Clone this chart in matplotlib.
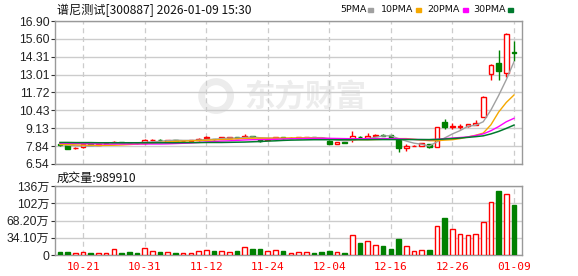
import numpy as np
import matplotlib
matplotlib.use('Agg')
import matplotlib.pyplot as plt
from matplotlib.patches import Rectangle

plt.rcParams['font.family'] = ['Liberation Sans', 'Noto Sans CJK SC']

# --- data (price in yuan, volume in 万手) ---
dates = ['10-16', '10-17', '10-20', '10-21', '10-22', '10-23', '10-24', '10-27', '10-28', '10-29',
         '10-30', '10-31', '11-03', '11-04', '11-05', '11-06', '11-07', '11-10', '11-11', '11-12',
         '11-13', '11-14', '11-17', '11-18', '11-19', '11-20', '11-21', '11-24', '11-25', '11-26',
         '11-27', '11-28', '12-01', '12-02', '12-03', '12-04', '12-05', '12-08', '12-09', '12-10',
         '12-11', '12-12', '12-15', '12-16', '12-17', '12-18', '12-19', '12-22', '12-23', '12-24',
         '12-25', '12-26', '12-29', '12-30', '12-31', '01-05', '01-06', '01-07', '01-08', '01-09']

opens = [8.00, 7.90, 7.70, 7.74, 8.00, 7.95, 7.97, 8.06, 8.13, 8.08,
         8.07, 8.05, 8.27, 8.30, 8.16, 8.28, 8.18, 8.21, 8.28, 8.40,
         8.36, 8.44, 8.44, 8.48, 8.47, 8.57, 8.34, 8.30, 8.40, 8.46,
         8.42, 8.43, 8.46, 8.46, 8.45, 8.23, 8.01, 8.15, 8.35, 8.49,
         8.44, 8.60, 8.64, 8.64, 8.35, 7.68, 7.85, 7.84, 7.99, 7.76,
         9.60, 9.24, 9.25, 9.26, 9.40, 9.97, 13.04, 13.88, 13.11, 14.66]
highs = [8.04, 7.92, 7.76, 8.02, 8.03, 8.00, 8.05, 8.18, 8.15, 8.12,
         8.09, 8.32, 8.34, 8.35, 8.30, 8.30, 8.24, 8.30, 8.42, 8.56,
         8.38, 8.48, 8.48, 8.50, 8.69, 8.60, 8.36, 8.40, 8.50, 8.50,
         8.46, 8.50, 8.52, 8.48, 8.47, 8.25, 8.12, 8.17, 8.93, 8.60,
         8.82, 8.68, 8.68, 8.66, 8.37, 7.96, 7.90, 8.06, 8.00, 9.22,
         9.80, 9.49, 9.45, 9.44, 9.73, 11.47, 13.78, 14.80, 16.00, 15.45]
lows = [7.88, 7.63, 7.64, 7.72, 7.92, 7.93, 7.95, 8.04, 8.04, 8.02,
        8.01, 7.98, 8.22, 8.22, 8.14, 8.18, 8.16, 8.19, 8.22, 8.38,
        8.30, 8.42, 8.42, 8.44, 8.40, 8.48, 8.16, 8.28, 8.38, 8.38,
        8.40, 8.41, 8.42, 8.42, 8.38, 8.00, 7.96, 8.06, 8.15, 8.35,
        8.42, 8.56, 8.55, 8.42, 7.39, 7.50, 7.82, 7.82, 7.68, 7.74,
        9.07, 9.05, 9.08, 9.24, 9.34, 9.95, 12.62, 12.62, 12.86, 14.00]
closes = [7.90, 7.65, 7.73, 8.00, 7.95, 7.98, 8.03, 8.15, 8.06, 8.05,
          8.04, 8.28, 8.29, 8.28, 8.28, 8.21, 8.22, 8.27, 8.36, 8.48,
          8.32, 8.47, 8.47, 8.45, 8.59, 8.50, 8.18, 8.38, 8.46, 8.42,
          8.45, 8.48, 8.47, 8.44, 8.40, 8.01, 8.11, 8.08, 8.59, 8.46,
          8.57, 8.62, 8.58, 8.44, 7.68, 7.84, 7.87, 8.04, 7.79, 9.20,
          9.22, 9.27, 9.28, 9.42, 9.50, 11.40, 13.68, 13.28, 15.94, 14.60]
volumes = [6.5, 6.5, 4.0, 5.3, 4.0, 4.0, 4.0, 11.2, 4.0, 5.9,
           4.0, 13.2, 7.3, 5.9, 5.3, 4.0, 4.0, 4.0, 7.9, 9.2,
           7.9, 7.3, 5.9, 7.9, 15.2, 11.9, 11.9, 7.9, 9.2, 8.2,
           4.5, 6.0, 6.0, 4.5, 6.5, 8.5, 6.0, 4.5, 39.5, 24.0,
           27.7, 19.8, 17.8, 12.0, 31.0, 17.0, 8.0, 10.0, 10.0, 57.0,
           73.0, 51.0, 41.5, 39.5, 41.5, 64.6, 104.0, 126.5, 120.6, 98.991]

ma5 = [7.95, 7.90, 7.86, 7.84, 7.84, 7.86, 7.92, 8.02, 8.05, 8.06,
       8.07, 8.12, 8.14, 8.19, 8.23, 8.27, 8.25, 8.25, 8.27, 8.31,
       8.33, 8.38, 8.42, 8.42, 8.46, 8.50, 8.44, 8.42, 8.41, 8.39,
       8.38, 8.41, 8.45, 8.45, 8.45, 8.36, 8.28, 8.21, 8.26, 8.35,
       8.36, 8.48, 8.57, 8.59, 8.38, 8.20, 8.05, 7.97, 7.84, 8.15,
       8.43, 8.72, 8.96, 9.27, 9.35, 9.60, 10.45, 11.50, 12.65, 13.95]
ma10 = [7.96, 7.95, 7.93, 7.91, 7.90, 7.89, 7.89, 7.90, 7.92, 7.95,
        7.98, 8.02, 8.06, 8.10, 8.14, 8.18, 8.20, 8.22, 8.24, 8.26,
        8.28, 8.31, 8.33, 8.36, 8.39, 8.41, 8.41, 8.41, 8.41, 8.42,
        8.43, 8.43, 8.43, 8.42, 8.40, 8.38, 8.35, 8.32, 8.31, 8.30,
        8.30, 8.31, 8.33, 8.36, 8.38, 8.38, 8.33, 8.27, 8.23, 8.23,
        8.27, 8.30, 8.38, 8.50, 8.62, 8.78, 9.38, 10.30, 11.00, 11.54]
ma20 = [8.05, 8.04, 8.03, 8.02, 8.01, 8.00, 7.99, 7.99, 7.99, 7.99,
        7.99, 7.99, 7.99, 7.99, 8.00, 8.02, 8.04, 8.06, 8.10, 8.14,
        8.17, 8.20, 8.22, 8.25, 8.28, 8.30, 8.31, 8.32, 8.33, 8.35,
        8.37, 8.38, 8.39, 8.40, 8.40, 8.40, 8.39, 8.38, 8.37, 8.37,
        8.37, 8.37, 8.38, 8.38, 8.37, 8.35, 8.32, 8.31, 8.30, 8.33,
        8.38, 8.42, 8.46, 8.50, 8.60, 8.72, 8.95, 9.25, 9.60, 9.85]
ma30 = [8.10, 8.10, 8.09, 8.09, 8.09, 8.08, 8.08, 8.08, 8.08, 8.08,
        8.08, 8.08, 8.08, 8.08, 8.08, 8.08, 8.09, 8.09, 8.09, 8.10,
        8.10, 8.10, 8.11, 8.12, 8.13, 8.15, 8.17, 8.20, 8.22, 8.25,
        8.27, 8.28, 8.29, 8.30, 8.30, 8.30, 8.30, 8.30, 8.30, 8.30,
        8.30, 8.31, 8.31, 8.31, 8.31, 8.31, 8.31, 8.31, 8.31, 8.32,
        8.35, 8.38, 8.42, 8.47, 8.52, 8.58, 8.72, 8.90, 9.12, 9.36]

price_ticks = [6.54, 7.84, 9.13, 10.43, 11.72, 13.01, 14.31, 15.60, 16.90]
vol_ticks = [0, 34.1, 68.2, 102.3, 136.4]
vol_tick_labels = ['0', '34.10万', '68.20万', '102万', '136万']
label_idx = [3, 11, 19, 27, 35, 43, 51, 59]

RED = '#ff0000'
GREEN = '#008000'
GRID = '#cccccc'

x = np.arange(len(dates))
o = np.array(opens)
c = np.array(closes)
up = c >= o

fig = plt.figure(figsize=(5.78, 2.76), dpi=100)
ax = fig.add_axes([55/578, 1-164/276, 467/578, 143/276])
axv = fig.add_axes([55/578, 1-255/276, 467/578, 69/276])

# watermark (logo + name)
ax.text(0.535, 0.475, '东方财富', transform=ax.transAxes, ha='center', va='center',
        fontsize=22, fontweight='bold', color='#ececec', family='Noto Sans CJK SC', zorder=0)
ax.scatter([0.345], [0.475], s=430, transform=ax.transAxes, facecolors='none',
           edgecolors='#ececec', linewidths=5, zorder=0)

for a in (ax, axv):
    a.set_xlim(-0.65, 60.04)
    for i in label_idx:
        a.axvline(i, color=GRID, lw=0.9, ls=(0, (4, 3)), zorder=0.5)
    for s in a.spines.values():
        s.set_color('#999999')
        s.set_linewidth(1)
    a.tick_params(axis='y', length=3, width=0.8, color='#333333', labelsize=8.7,
                  labelcolor='#222222', pad=1)

# candles
w = 0.6
ax.vlines(x[up], np.array(lows)[up], np.array(highs)[up], color=RED, lw=1, zorder=2)
ax.vlines(x[~up], np.array(lows)[~up], np.array(highs)[~up], color=GREEN, lw=1, zorder=2)
body = np.abs(c - o)
body = np.where(body < 0.02, 0.02, body)
ax.bar(x[up], body[up], w, bottom=o[up], facecolor='white', edgecolor=RED, lw=1, zorder=3)
ax.bar(x[~up], body[~up], w, bottom=c[~up], facecolor=GREEN, edgecolor=GREEN, lw=1, zorder=3)

ax.plot(x, ma5, color='#a0a0a0', lw=1, zorder=4)
ax.plot(x, ma10, color='#f5a800', lw=1, zorder=4)
ax.plot(x, ma20, color='#ff00ff', lw=1, zorder=4)
ax.plot(x, ma30, color='#007a2e', lw=1.1, zorder=4)

ax.set_ylim(6.54, 16.90)
ax.set_yticks(price_ticks)
ax.set_yticklabels(['%.2f' % t for t in price_ticks])
ax.yaxis.grid(True, color=GRID, lw=1)
ax.set_axisbelow(True)
ax.set_xticks([])

# volume
v = np.array(volumes)
axv.bar(x[up], v[up], w, facecolor='white', edgecolor=RED, lw=1, zorder=3)
axv.bar(x[~up], v[~up], w, facecolor=GREEN, edgecolor=GREEN, lw=1, zorder=3)
axv.set_ylim(0, 136.4)
axv.set_yticks(vol_ticks)
axv.set_yticklabels(vol_tick_labels)
axv.yaxis.grid(True, color=GRID, lw=1)
axv.set_axisbelow(True)
axv.set_xticks(label_idx)
axv.set_xticklabels([dates[i] for i in label_idx], family='DejaVu Sans Mono',
                    fontsize=8, color=RED)
axv.tick_params(axis='x', length=0, pad=5)

# header texts
fig.text(57/578, 1-10/276, '谱尼测试[300887] 2026-01-09 15:30', fontsize=8.7,
         family=['Noto Sans CJK SC', 'DejaVu Sans'], color='#111111', va='center')
fig.text(57/578, 1-178/276, '成交量:989910', fontsize=8.7,
         family=['Noto Sans CJK SC', 'DejaVu Sans'], color='#111111', va='center')

legend = [('5PMA', 340, 368, '#a0a0a0'), ('10PMA', 381, 416, '#f5a800'),
          ('20PMA', 427, 463, '#ff00ff'), ('30PMA', 473, 508, '#007a2e')]
for name, tx, sx, col in legend:
    fig.text(tx/578, 1-10/276, name, fontsize=6.8, family='Liberation Sans Narrow',
             color='#111111', va='center')
    fig.patches.append(Rectangle((sx/578, 1-11.5/276), 5/578, 3.5/276,
                                 transform=fig.transFigure, color=col, figure=fig))

fig.savefig('out.png', dpi=100)
